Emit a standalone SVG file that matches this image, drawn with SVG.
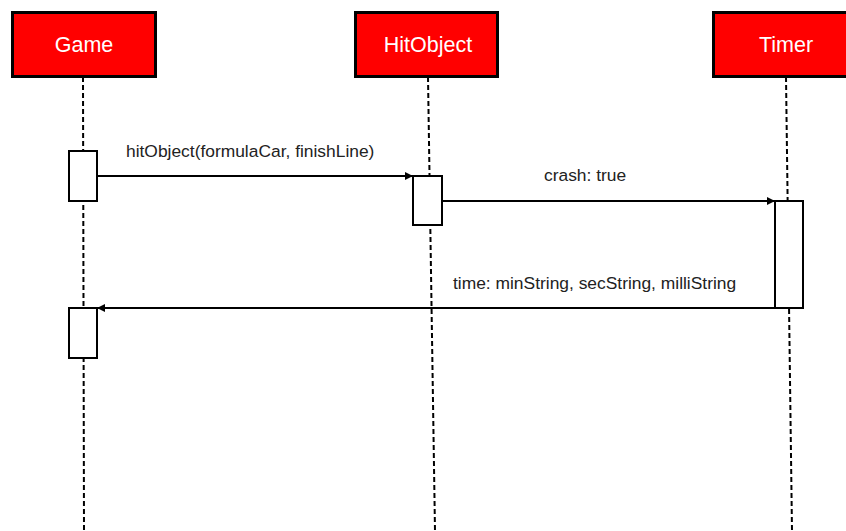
<svg xmlns="http://www.w3.org/2000/svg" width="846" height="531" viewBox="0 0 846 531">
  <defs>
    <marker id="arrow" viewBox="0 0 10 10" refX="10" refY="5" markerWidth="8" markerHeight="8" markerUnits="userSpaceOnUse" orient="auto">
      <path d="M0,0 L10,5 L0,10 z" fill="#000"/>
    </marker>
    <style>
      .head { fill: #ff0000; stroke: #000; stroke-width: 3; }
      .head-label { font-family: "Liberation Sans", Arial, sans-serif; font-size: 21.5px; fill: #ffffff; text-anchor: middle; }
      .lifeline { stroke: #000; stroke-width: 2; stroke-dasharray: 5 3; fill: none; }
      .activation { fill: #fff; stroke: #000; stroke-width: 2; }
      .msg { stroke: #000; stroke-width: 2; fill: none; marker-end: url(#arrow); }
      .msg-label { font-family: "Liberation Sans", Arial, sans-serif; font-size: 17.4px; fill: #222; }
    </style>
  </defs>

  <rect width="846" height="531" fill="#ffffff"/>

  <!-- Participant: Game -->
  <g id="game">
    <line class="lifeline" x1="83" y1="77" x2="84" y2="531"/>
    <rect class="head" x="12.5" y="12.5" width="143" height="64"/>
    <text class="head-label" x="84" y="52">Game</text>
    <rect class="activation" x="69" y="151" width="28" height="50"/>
    <rect class="activation" x="69" y="308" width="28" height="50"/>
  </g>

  <!-- Participant: HitObject -->
  <g id="hitobject">
    <line class="lifeline" x1="428" y1="77" x2="435" y2="531"/>
    <rect class="head" x="355.5" y="12.5" width="142" height="64"/>
    <text class="head-label" x="428" y="52">HitObject</text>
    <rect class="activation" x="413" y="176" width="29" height="49"/>
  </g>

  <!-- Participant: Timer -->
  <g id="timer">
    <line class="lifeline" x1="786" y1="77" x2="792" y2="531"/>
    <rect class="head" x="713.5" y="12.5" width="145" height="64"/>
    <text class="head-label" x="786" y="52">Timer</text>
    <rect class="activation" x="775" y="201" width="28" height="107"/>
  </g>

  <!-- Messages -->
  <g id="connectors">
    <line class="msg" x1="97" y1="176" x2="413" y2="176"/>
    <text class="msg-label" x="126" y="157">hitObject(formulaCar, finishLine)</text>

    <line class="msg" x1="442" y1="201" x2="775" y2="201"/>
    <text class="msg-label" x="544" y="181">crash: true</text>

    <line class="msg" x1="775" y1="308" x2="97" y2="308"/>
    <text class="msg-label" x="453" y="289">time: minString, secString, milliString</text>
  </g>
</svg>
